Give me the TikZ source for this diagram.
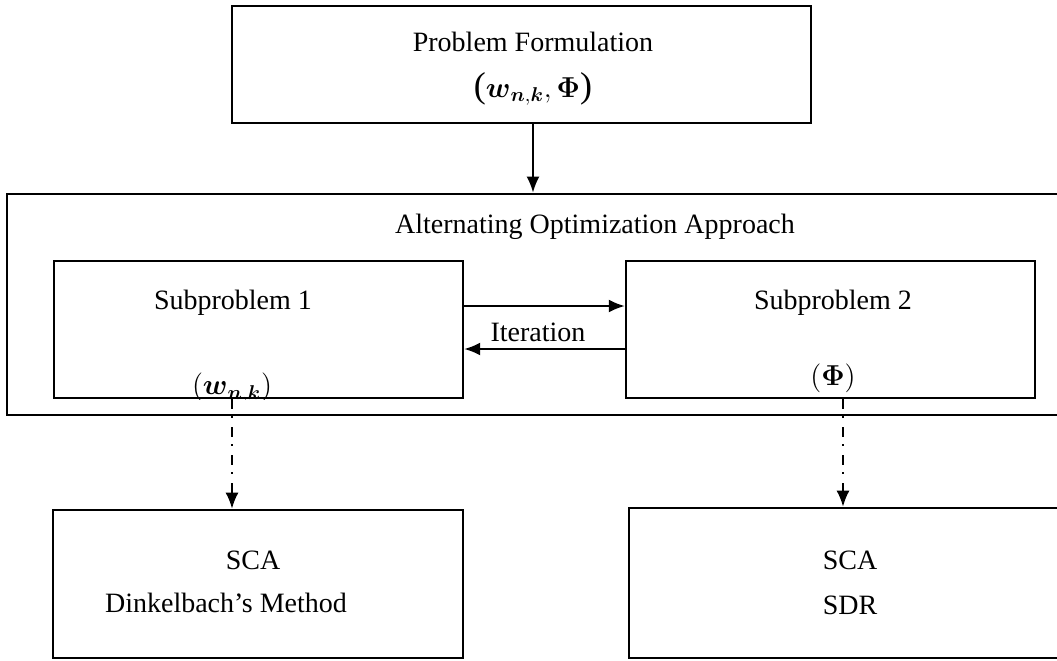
\documentclass[tikz,border=0pt]{standalone}
\usepackage{amsmath, amssymb}
\usepackage[no-math]{fontspec}
\setmainfont{Liberation Serif}
\usetikzlibrary{arrows.meta}

\newcommand{\bigparen}[1]{{\fontsize{18}{18}\selectfont #1}}

\begin{document}
\begin{tikzpicture}[x=0.5pt, y=-0.5pt,
        font=\fontsize{14}{17}\selectfont,
        every node/.style={inner sep=0pt},
        box/.style={draw, line width=1.4pt},
        arr/.style={-{Latex[length=8pt,width=6.5pt]}, line width=1pt},
        dashdot/.style={arr, line width=0.8pt, dash pattern=on 5pt off 3.5pt on 1pt off 4.5pt}]

        \clip (0, 0) rectangle (1057, 660);

        \node[box, minimum width=289.5pt, minimum height=58.5pt] (prob) at (521.5, 64.5) {};
        \node (p1) at (533, 42) {Problem Formulation};
        \node (p2) at (533, 89) {\bigparen{(}$\boldsymbol{w}_{\boldsymbol{n},\boldsymbol{k}}, \boldsymbol{\Phi}$\bigparen{)}};

        \node[box, minimum width=531.5pt, minimum height=110.5pt] (outer) at (538.5, 304.5) {};
        \node (title) at (595, 227) {Alternating Optimization Approach};

        \node[box, line width=1.2pt, minimum width=204.5pt, minimum height=68.5pt] (sub1) at (258.5, 329.5) {};
        \node[box, line width=1.2pt, minimum width=204.5pt, minimum height=68.5pt] (sub2) at (830.5, 329.5) {};
        \node (t1) at (233, 303) {Subproblem 1};
        \node (t2) at (833, 303) {Subproblem 2};
        \begin{scope}
            \clip (sub1.north west) rectangle (sub1.south east);
            \node (v1) at (232, 388) {$(\boldsymbol{w}_{\boldsymbol{n},\boldsymbol{k}})$};
        \end{scope}
        \node (v2) at (833, 378) {$(\boldsymbol{\Phi})$};

        \node[box, minimum width=205pt, minimum height=74pt] (low1) at (258, 584) {};
        \node[box, minimum width=225.5pt, minimum height=75pt] (low2) at (854.5, 583) {};
        \node (s1) at (253, 560) {SCA};
        \node (d1) at (226, 603) {Dinkelbach’s Method};
        \node (s2) at (850, 560) {SCA};
        \node (d2) at (850, 605) {SDR};

        \draw[arr] ([xshift=5.75pt]prob.south) -- ([xshift=5.75pt]prob.south |- outer.north);
        \draw[arr] ([yshift=11.75pt]sub1.east) -- ([yshift=11.75pt]sub2.west);
        \draw[arr] ([yshift=-9.75pt]sub2.west) -- ([yshift=-9.75pt]sub1.east);
        \node (it) at (538, 332) {Iteration};

        \draw[dashdot] ([xshift=-13.25pt]sub1.south) -- ([xshift=-13.25pt]sub1.south |- low1.north);
        \draw[dashdot] ([xshift=6.25pt]sub2.south) -- ([xshift=6.25pt]sub2.south |- low2.north);
\end{tikzpicture}
\end{document}
